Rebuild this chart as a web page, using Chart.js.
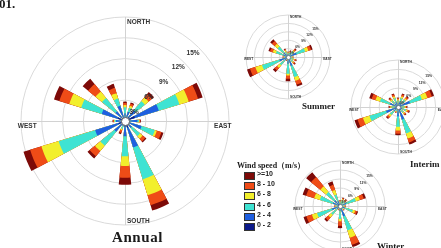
<!DOCTYPE html>
<html>
<head>
<meta charset="utf-8">
<script src="https://cdn.jsdelivr.net/npm/chart.js@4.4.1/dist/chart.umd.min.js"></script>
<style>
  html, body { margin: 0; padding: 0; background: #fff; }
  #page { position: relative; width: 441px; height: 248px; overflow: hidden; background: #fff; }
  #page canvas { position: absolute; }
  .ttl { position: absolute; font-family: "Liberation Serif", "DejaVu Serif", serif; font-weight: bold; color: #1a1a1a; white-space: nowrap; }
  #legend { position: absolute; left: 237px; top: 160px; }
  #legend .head { font-family: "Liberation Serif", serif; font-weight: bold; font-size: 8px; color: #1a1a1a; white-space: nowrap; height: 11px; }
  #legend .row { position: relative; height: 10.2px; }
  #legend .sw { position: absolute; left: 7px; top: 1px; width: 9px; height: 6px; border: 0.6px solid #333; }
  #legend .lb { position: absolute; left: 20px; top: -1px; font-family: "Liberation Sans", Arial, sans-serif; font-weight: bold; font-size: 7px; color: #222; white-space: nowrap; }
</style>
</head>
<body>
<div id="page">
  <canvas id="annual"></canvas>
  <canvas id="summer"></canvas>
  <canvas id="interim"></canvas>
  <canvas id="winter"></canvas>
  <div class="ttl" style="left:-1px;top:-3px;font-size:13px;line-height:13px;">01.</div>
  <div class="ttl" style="left:112px;top:230px;font-size:15px;line-height:15px;letter-spacing:0.6px;">Annual</div>
  <div class="ttl" style="left:302px;top:102px;font-size:9px;line-height:9px;">Summer</div>
  <div class="ttl" style="left:410px;top:160px;font-size:9px;line-height:9px;">Interim</div>
  <div class="ttl" style="left:377px;top:242px;font-size:9px;line-height:9px;">Winter</div>
  <div id="legend"></div>
</div>
<script>
// 16 compass sectors, clockwise from north
const directions = ["N", "NNE", "NE", "ENE", "E", "ESE", "SE", "SSE",
                    "S", "SSW", "SW", "WSW", "W", "WNW", "NW", "NNW"];
const speedBins = ["0 - 2", "2 - 4", "4 - 6", "6 - 8", "8 - 10", ">=10"];
const binColors = ["#0c1a8a", "#1f5fe0", "#3fe3d3", "#f2ef2c", "#ef4c17", "#7d0a08"];
const ringTicks = [3, 6, 9, 12, 15];

// frequency (%) per speed bin (rows) and direction (columns)
const annualFreq = [
  [0.4, 0.5, 0.7, 1.5, 0.5, 0.6, 0.5, 1.0, 0.8, 0.3, 0.6, 1.0, 0.4, 1.1, 0.6, 0.5],
  [0.7, 0.9, 1.3, 3.6, 1.3, 1.9, 0.8, 3.0, 1.4, 0.5, 1.4, 3.5, 0.9, 2.4, 1.2, 1.8],
  [0.9, 0.6, 1.7, 3.1, 0.2, 2.0, 1.5, 4.8, 2.9, 0.4, 2.6, 5.5, 0.2, 3.1, 2.5, 1.1],
  [0.3, 0.3, 0.7, 1.4, 0.1, 0.3, 0.5, 2.4, 1.4, 0.2, 1.0, 2.6, 0.1, 1.8, 1.2, 0.8],
  [0.3, 0.3, 0.6, 1.4, 0.1, 0.7, 0.5, 1.5, 1.7, 0.4, 1.0, 1.7, 0.1, 1.5, 1.4, 0.8],
  [0.2, 0.2, 0.4, 0.7, 0.1, 0.3, 0.2, 0.8, 1.0, 0.2, 0.4, 1.0, 0.1, 0.8, 1.0, 0.6]
];
const summerFreq = [
  [0.3, 0.3, 0.4, 0.8, 0.3, 0.3, 0.3, 0.8, 0.6, 0.2, 0.4, 0.9, 0.3, 0.5, 0.5, 0.3],
  [0.6, 0.7, 1.0, 2.4, 0.7, 0.8, 0.8, 2.5, 1.8, 0.4, 1.2, 2.3, 0.6, 1.3, 1.5, 0.8],
  [0.5, 0.6, 1.2, 3.2, 0.5, 1.0, 1.2, 4.2, 3.6, 0.4, 2.2, 6.5, 0.5, 2.7, 2.8, 0.9],
  [0.2, 0.3, 0.5, 1.2, 0.2, 0.4, 0.5, 1.4, 0.6, 0.2, 1.2, 2.5, 0.2, 1.2, 1.3, 0.5],
  [0.2, 0.4, 0.6, 1.0, 0.2, 0.5, 0.5, 1.4, 1.2, 0.2, 1.2, 2.0, 0.2, 1.0, 1.3, 0.4],
  [0.2, 0.2, 0.3, 0.6, 0.1, 0.3, 0.3, 0.7, 0.9, 0.1, 0.8, 1.1, 0.2, 0.6, 0.8, 0.3]
];
const interimFreq = [
  [0.4, 0.5, 0.5, 1.0, 0.4, 0.4, 0.4, 1.0, 0.8, 0.3, 0.5, 1.0, 0.4, 0.7, 0.4, 0.5],
  [0.8, 1.1, 1.1, 3.0, 0.8, 1.0, 0.9, 3.2, 2.2, 0.5, 1.2, 3.0, 0.8, 2.0, 1.0, 1.1],
  [0.9, 1.4, 1.4, 4.0, 0.9, 1.3, 1.1, 4.6, 3.3, 0.6, 1.6, 5.5, 0.9, 3.3, 1.2, 1.4],
  [0.4, 0.6, 0.6, 1.8, 0.4, 0.5, 0.5, 1.7, 1.2, 0.3, 0.7, 2.2, 0.4, 1.5, 0.6, 0.6],
  [0.3, 0.6, 0.6, 1.5, 0.3, 0.5, 0.4, 1.3, 1.0, 0.2, 0.6, 1.8, 0.3, 1.3, 0.5, 0.6],
  [0.2, 0.3, 0.3, 0.7, 0.2, 0.3, 0.2, 0.7, 0.5, 0.1, 0.4, 1.0, 0.2, 0.8, 0.3, 0.3]
];
const winterFreq = [
  [0.3, 0.3, 0.3, 0.6, 0.3, 0.5, 0.3, 1.0, 0.5, 0.2, 0.4, 0.8, 0.3, 0.8, 0.8, 0.5],
  [0.5, 0.7, 0.7, 1.6, 0.5, 1.2, 0.5, 2.6, 1.2, 0.4, 1.0, 2.0, 0.5, 1.7, 1.7, 1.2],
  [0.6, 1.0, 1.0, 3.3, 0.6, 2.8, 0.6, 4.9, 2.6, 0.4, 2.4, 5.2, 0.6, 4.5, 3.5, 2.3],
  [0.2, 0.4, 0.4, 1.4, 0.2, 0.8, 0.2, 2.6, 0.8, 0.2, 1.2, 1.8, 0.2, 2.0, 2.5, 1.6],
  [0.2, 0.4, 0.4, 1.4, 0.2, 0.6, 0.2, 2.4, 1.5, 0.2, 1.2, 1.9, 0.2, 2.8, 4.0, 1.8],
  [0.2, 0.2, 0.2, 0.7, 0.2, 0.4, 0.2, 0.8, 0.8, 0.1, 0.6, 1.0, 0.2, 1.2, 2.1, 1.2]
];

// cross lines under the petals, hole + labels on top
const roseDecor = {
  id: "roseDecor",
  beforeDatasetsDraw(chart) {
    const s = chart.scales.r, ctx = chart.ctx;
    const x = s.xCenter, y = s.yCenter, R = s.drawingArea;
    ctx.save();
    ctx.strokeStyle = "#d2d2d2";
    ctx.lineWidth = 1;
    ctx.beginPath();
    ctx.moveTo(x - R, y + 0.5); ctx.lineTo(x + R, y + 0.5);
    ctx.moveTo(x + 0.5, y - R); ctx.lineTo(x + 0.5, y + R);
    ctx.stroke();
    ctx.restore();
  },
  afterDatasetsDraw(chart, args, o) {
    const s = chart.scales.r, ctx = chart.ctx;
    const x = s.xCenter, y = s.yCenter, R = s.drawingArea;
    ctx.save();
    ctx.fillStyle = "#fff";
    ctx.strokeStyle = "#555";
    ctx.lineWidth = o.hole > 3 ? 0.9 : 0.5;
    ctx.beginPath();
    ctx.arc(x + 0.5, y + 0.5, o.hole, 0, Math.PI * 2);
    ctx.fill();
    ctx.stroke();

    ctx.fillStyle = "#333";
    ctx.font = "bold " + o.fs + "px 'Liberation Sans', Arial, sans-serif";
    ctx.textBaseline = "middle";
    ctx.textAlign = "left";
    ctx.fillText("NORTH", x + 2, y - R * 0.95);
    ctx.fillText("SOUTH", x + 2, y + R * 0.96);
    ctx.textAlign = "center";
    ctx.fillText("WEST", x - R * 0.94, y + o.fs * 0.8);
    ctx.fillText("EAST", x + R * 0.94, y + o.fs * 0.8);

    const c = Math.SQRT1_2;
    ringTicks.forEach(v => {
      const r = s.getDistanceFromCenterForValue(v) - R * 0.075;
      ctx.fillText(v + "%", x + r * c, y - r * c);
    });
    ctx.restore();
  }
};

function makeRose(id, freq, cx, cy, R, fs, hole) {
  const pad = Math.ceil(R * 0.16);
  const size = 2 * (R + pad);
  const cv = document.getElementById(id);
  cv.width = size;
  cv.height = size;
  cv.style.left = (cx - R - pad) + "px";
  cv.style.top = (cy - R - pad) + "px";

  // each bin drawn as cumulative wedge; gap slot between sectors
  const datasets = speedBins.map((bin, b) => {
    const data = [];
    directions.forEach((d, i) => {
      let cum = 0;
      for (let k = 0; k <= b; k++) cum += freq[k][i];
      data.push(cum, 0);
    });
    return { label: bin, data, backgroundColor: binColors[b], borderWidth: 0, clip: false };
  });

  new Chart(cv, {
    type: "polarArea",
    data: { labels: directions.flatMap(d => [d, ""]), datasets },
    options: {
      responsive: false,
      animation: false,
      events: [],
      layout: { padding: pad },
      plugins: {
        legend: { display: false },
        tooltip: { enabled: false },
        roseDecor: { fs, hole }
      },
      scales: {
        r: {
          min: 0,
          max: 15,
          startAngle: -360 / 64,
          ticks: { display: false, stepSize: 3 },
          grid: { color: "#dadada", lineWidth: 1 },
          angleLines: { display: false },
          pointLabels: { display: false }
        }
      }
    },
    plugins: [roseDecor]
  });
}

makeRose("annual", annualFreq, 125, 121, 104, 6.5, 4);
makeRose("summer", summerFreq, 288, 57, 42, 3.2, 2);
makeRose("interim", interimFreq, 398, 107, 47, 3.4, 2);
makeRose("winter", winterFreq, 340, 206, 45, 3.3, 2);

// speed legend, top bin first
const legend = document.getElementById("legend");
legend.innerHTML = '<div class="head">Wind speed（m/s）</div>' +
  speedBins.slice().reverse().map((bin, i) =>
    '<div class="row"><span class="sw" style="background:' + binColors[speedBins.length - 1 - i] +
    '"></span><span class="lb">' + bin + '</span></div>').join("");
</script>
</body>
</html>
